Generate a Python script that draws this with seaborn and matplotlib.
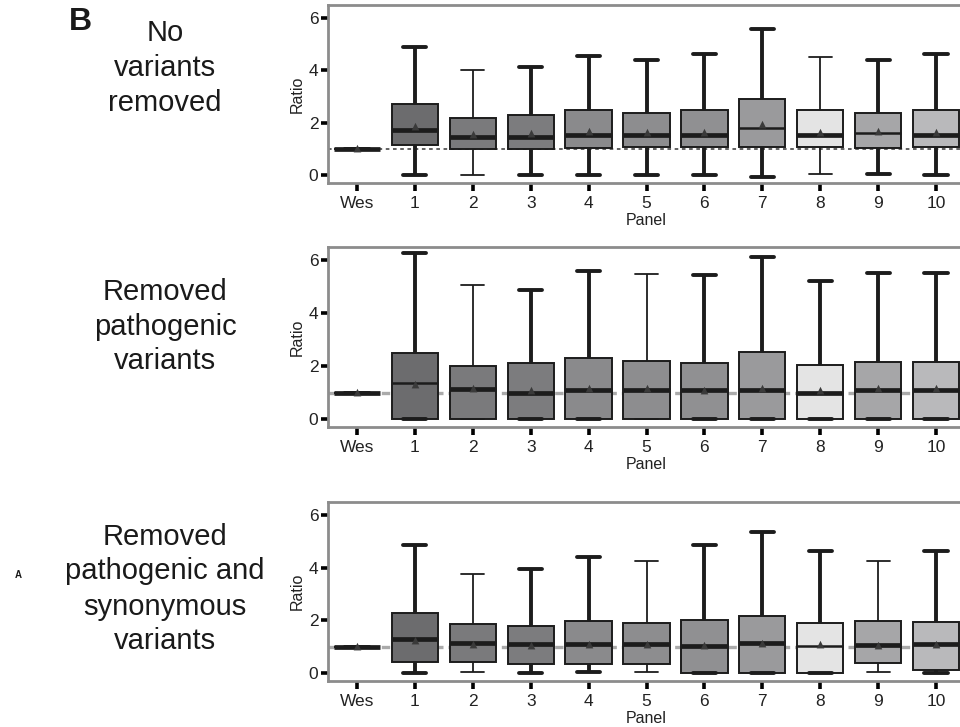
import numpy as np
import pandas as pd
import matplotlib
matplotlib.use("Agg")
import matplotlib.pyplot as plt
import seaborn as sns

# ---------------- data ----------------
categories = ["Wes", "1", "2", "3", "4", "5", "6", "7", "8", "9", "10"]

panel_titles = [
    "No\nvariants\nremoved",
    "Removed\npathogenic\nvariants",
    "Removed\npathogenic and\nsynonymous\nvariants",
]

# Panel 1: no variants removed
p1_low = [1, 0.00, 0.00, 0.00, 0.00, 0.00, 0.00, -0.07, 0.04, 0.04, 0.00]
p1_q1 = [1, 1.14, 1.00, 1.00, 1.04, 1.08, 1.08, 1.08, 1.08, 1.05, 1.08]
p1_med = [1, 1.72, 1.44, 1.45, 1.52, 1.52, 1.52, 1.82, 1.52, 1.60, 1.52]
p1_q3 = [1, 2.70, 2.20, 2.28, 2.50, 2.38, 2.50, 2.90, 2.50, 2.38, 2.50]
p1_high = [1, 4.90, 4.00, 4.15, 4.57, 4.38, 4.63, 5.60, 4.50, 4.38, 4.63]
p1_mean = [1, 1.85, 1.55, 1.58, 1.65, 1.62, 1.62, 1.90, 1.62, 1.65, 1.62]

# Panel 2: removed pathogenic variants
p2_low = [1, 0, 0, 0, 0, 0, 0, 0, 0, 0, 0]
p2_q1 = [1, 0, 0, 0, 0, 0, 0, 0, 0, 0, 0]
p2_med = [1, 1.37, 1.15, 1.00, 1.10, 1.10, 1.10, 1.10, 1.00, 1.10, 1.10]
p2_q3 = [1, 2.48, 1.99, 2.10, 2.29, 2.18, 2.10, 2.52, 2.06, 2.14, 2.14]
p2_high = [1, 6.27, 5.08, 4.89, 5.58, 5.47, 5.43, 6.11, 5.20, 5.50, 5.50]
p2_mean = [1, 1.30, 1.15, 1.05, 1.12, 1.12, 1.05, 1.12, 1.05, 1.12, 1.12]

# Panel 3: removed pathogenic and synonymous variants
p3_low = [1, 0.00, 0.04, 0.00, 0.04, 0.04, 0.00, 0.00, 0.00, 0.04, 0.00]
p3_q1 = [1, 0.42, 0.42, 0.34, 0.34, 0.34, 0.00, 0.00, 0.00, 0.38, 0.10]
p3_med = [1, 1.29, 1.14, 1.10, 1.10, 1.10, 1.02, 1.14, 1.02, 1.05, 1.10]
p3_q3 = [1, 2.28, 1.86, 1.79, 1.98, 1.90, 2.00, 2.17, 1.90, 1.98, 1.94]
p3_high = [1, 4.86, 3.76, 3.95, 4.40, 4.25, 4.86, 5.36, 4.63, 4.25, 4.63]
p3_mean = [1, 1.22, 1.05, 1.02, 1.05, 1.08, 1.02, 1.12, 1.05, 1.02, 1.05]

panels = [
    (p1_low, p1_q1, p1_med, p1_q3, p1_high, p1_mean),
    (p2_low, p2_q1, p2_med, p2_q3, p2_high, p2_mean),
    (p3_low, p3_q1, p3_med, p3_q3, p3_high, p3_mean),
]

# ---------------- styles ----------------
box_colors = ["#ffffff", "#6c6c6e", "#7a7a7c", "#7c7c7e", "#8a8a8c", "#8d8d8f",
              "#909092", "#9a9a9c", "#e4e4e4", "#a6a6a8", "#b9b9bb"]
thin_whisker = [{"2", "8"}, {"2", "5"}, {"2", "5", "9"}]
thin_median = [{"7", "9"}, {"1"}, {"8"}]
ref_line = [dict(color="#555555", lw=1.3, dashes=(2, 2)),
            dict(color="#aaaaaa", lw=2.4, dashes=(2.5, 1.5)),
            dict(color="#aaaaaa", lw=2.4, dashes=(2.5, 1.5))]

sns.set_theme(style="white")
plt.rcParams["font.family"] = ["Liberation Sans", "DejaVu Sans"]

fig = plt.figure(figsize=(9.6, 7.27), dpi=100)

W, H = 960.0, 727.0
ax_left, ax_right = 328, 965
ax_tb = [(5, 183), (247, 427), (502, 681)]
title_y = [[33, 68, 103], [292, 327, 361], [537, 571, 607, 641]]

for pi, (low, q1, med, q3, high, mean) in enumerate(panels):
    top, bot = ax_tb[pi]
    ax = fig.add_axes([ax_left / W, 1 - bot / H, (ax_right - ax_left) / W, (bot - top) / H])

    rows = []
    for c, a, b, m, d, e in zip(categories, low, q1, med, q3, high):
        for v in (a, b, m, d, e):
            rows.append({"Panel": c, "Ratio": v})
    df = pd.DataFrame(rows)

    ax.axhline(1, zorder=0.5, **ref_line[pi])

    for i, cat in enumerate(categories):
        sub = df[df["Panel"] == cat]
        wl = 1.3 if cat in thin_whisker[pi] else 2.8
        ml = 1.8 if cat in thin_median[pi] else 3.4
        sns.boxplot(data=sub, x="Panel", y="Ratio", order=categories,
                    color=box_colors[i], saturation=1, width=0.8,
                    whis=(0, 100), showfliers=False,
                    linecolor="#1c1c1c", linewidth=1.4,
                    medianprops=dict(linewidth=ml, solid_capstyle="butt"),
                    whiskerprops=dict(linewidth=wl),
                    capprops=dict(linewidth=wl),
                    ax=ax)

    sns.pointplot(x=categories, y=mean, order=categories, linestyle="none",
                  markers="^", markersize=2.2, color="#3a3a3a", ax=ax, zorder=5)

    ax.set_xlim(-0.5, 10.5)
    ax.set_ylim(-0.3, 6.5)
    ax.set_yticks([0, 2, 4, 6])
    ax.set_yticklabels(["0", "2", "4", "6"])
    ax.set_xticks(range(len(categories)))
    ax.set_xticklabels(categories)
    ax.set_xlabel("Panel", fontsize=11.5, labelpad=2, color="#222222")
    ax.set_ylabel("Ratio", fontsize=11.5, labelpad=3, color="#222222")
    ax.tick_params(axis="x", length=6, width=2.6, color="black",
                   labelsize=12.5, pad=3, bottom=True, labelcolor="#222222")
    ax.tick_params(axis="y", length=5, width=2.6, color="black",
                   labelsize=12.5, pad=2, left=True, labelcolor="#222222")
    for s in ax.spines.values():
        s.set_visible(True)
        s.set_color("#8c8c8c")
        s.set_linewidth(2.0)
    ax.grid(False)

    lines = panel_titles[pi].split("\n")
    for t, yy in zip(lines, title_y[pi]):
        fig.text(165 / W, 1 - yy / H, t, ha="center", va="center", fontsize=21, color="#1a1a1a")

fig.text(80 / W, 1 - 22 / H, "B", ha="center", va="center", fontsize=23, fontweight="bold", color="#1a1a1a")
fig.text(18 / W, 1 - 575 / H, "A", ha="center", va="center", fontsize=7, fontweight="bold", color="#1a1a1a")

fig.savefig("out.png", dpi=100)
